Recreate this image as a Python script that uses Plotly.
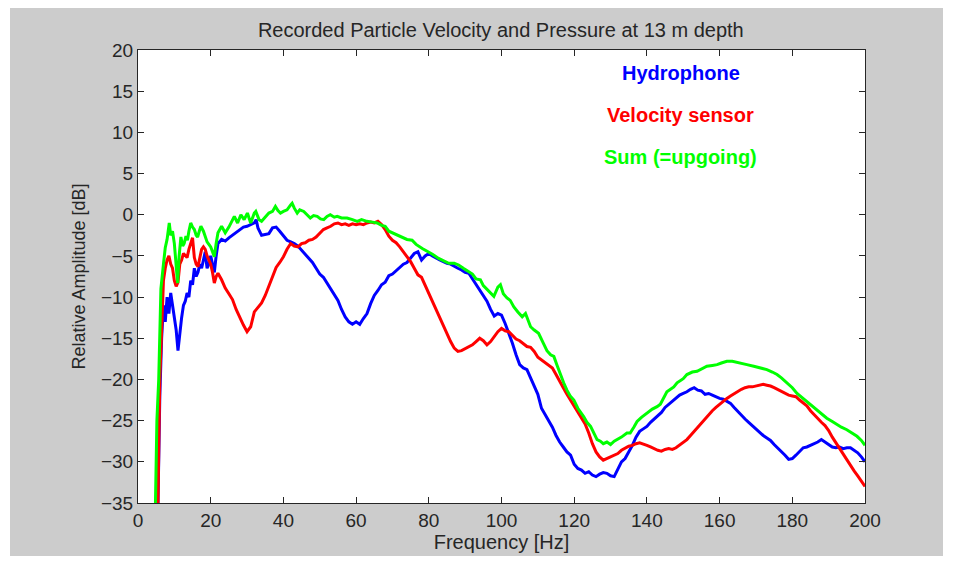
import plotly.graph_objects as go

# ---------------- data ----------------
hydro_f = [5.5, 6, 6.5, 7, 7.5, 8, 8.5, 9, 9.5, 10, 10.5, 11, 11.5, 12, 12.5, 13, 13.5, 14, 14.5, 15,
           15.5, 16, 16.5, 17, 17.5, 18, 18.5, 19, 19.5, 20, 20.5, 21, 21.5, 22, 23, 24, 25, 26, 27, 28,
           29, 30, 31, 32, 32.5, 33, 34, 35, 36, 37, 38, 39, 40, 41, 42, 43, 44, 45, 46, 47,
           48, 49, 50, 51, 52, 53, 54, 55, 56, 57, 58, 59, 60, 61, 62, 63, 64, 65, 66, 67,
           68, 69, 70, 71, 72, 73, 74, 75, 76, 77, 78, 79, 80, 81, 82, 83, 84, 85, 86, 87,
           88, 89, 90, 91, 92, 93, 94, 95, 96, 97, 98, 99, 100, 101, 102, 103, 104, 105, 106, 107,
           108, 109, 110, 111, 112, 113, 114, 115, 116, 117, 118, 119, 120, 121, 122, 123, 124, 125, 126, 127,
           128, 129, 130, 131, 132, 133, 134, 135, 136, 137, 138, 139, 140, 141, 142, 143, 144, 145, 146, 147,
           148, 149, 150, 151, 152, 153, 154, 155, 156, 157, 158, 159, 160, 161, 162, 163, 164, 165, 166, 167,
           168, 169, 170, 171, 172, 173, 174, 175, 176, 177, 178, 179, 180, 181, 182, 183, 184, 185, 186, 187,
           188, 189, 190, 191, 192, 193, 194, 195, 196, 197, 198, 199, 200]
hydro_db = [-35, -22, -15, -11, -13, -10, -12, -9.5, -11, -12.5, -14, -16.5, -14, -12.5, -11, -10.5, -9.5, -10, -8, -8.5,
            -6.5, -7.5, -7, -6, -6.5, -5.5, -4.5, -6.5, -6, -5, -6, -7, -5, -3.5, -3, -3.2, -2.8, -2.5, -2.2, -1.8,
            -1.5, -1.4, -1.2, -1, -0.6, -1.6, -2.5, -2.4, -2.3, -1.6, -1.5, -2, -2.6, -3.1, -3.3, -3.5, -3.8, -4.3, -4.7, -5.2,
            -5.8, -6.5, -7.2, -7.6, -8.3, -9, -9.8, -10.4, -11.5, -12.4, -13, -13.3, -13, -13.3, -12.6, -12, -10.8, -9.8, -9.2, -8.5,
            -8.2, -7.4, -7.2, -6.8, -6.5, -6, -5.8, -5.2, -4.7, -4.5, -5.5, -5, -4.7, -5, -5.3, -5.5, -5.7, -5.9, -6, -6.3,
            -6.5, -6.7, -7, -7.1, -7.8, -8.4, -9.2, -9.8, -10.5, -11.5, -12.3, -12, -12.2, -13.2, -14.3, -15.6, -17, -18.2, -18.6, -18.8,
            -19.8, -20.8, -21.8, -23.5, -24.3, -25, -25.8, -26.8, -27.6, -28.2, -28.8, -29.2, -30.3, -30.8, -31, -31.4, -31.2, -31.6, -31.8, -31.5,
            -31.3, -31.4, -31.7, -31.8, -30.8, -30, -29.6, -28.8, -28, -27, -26.3, -26, -25.7, -25.2, -24.8, -24.4, -24, -23.4, -23, -22.6,
            -22.3, -21.9, -21.7, -21.5, -21.2, -21, -21.3, -21.4, -21.8, -21.7, -21.9, -22.1, -22.3, -22.4, -22.6, -22.9, -23.4, -23.9, -24.3, -24.8,
            -25.2, -25.6, -26, -26.5, -26.8, -27.1, -27.4, -27.9, -28.3, -28.7, -29.2, -29.7, -29.6, -29.2, -28.8, -28.3, -28.2, -28, -27.8, -27.6,
            -27.3, -27.6, -28, -28.2, -28.3, -28.2, -28.4, -28.3, -28.3, -28.6, -28.9, -29.4, -30]

vel_f = [5.5, 6, 6.5, 7, 7.5, 8, 8.5, 9, 9.5, 10, 10.5, 11, 11.5, 12, 12.5, 13, 13.5, 14, 14.5, 15,
         15.5, 16, 16.5, 17, 17.5, 18, 18.5, 19, 19.5, 20, 20.5, 21, 21.5, 22, 23, 24, 25, 26, 27, 28,
         29, 30, 31, 32, 33, 34, 35, 36, 37, 38, 39, 40, 41, 42, 43, 44, 45, 46, 47, 48,
         49, 50, 51, 52, 53, 54, 55, 56, 57, 58, 59, 60, 61, 62, 63, 64, 65, 66, 67, 68,
         69, 70, 71, 72, 73, 74, 75, 76, 77, 78, 79, 80, 81, 82, 83, 84, 85, 86, 87, 88,
         89, 90, 91, 92, 93, 94, 95, 96, 97, 98, 99, 100, 101, 102, 103, 104, 105, 106, 107, 108,
         109, 110, 111, 112, 113, 114, 115, 116, 117, 118, 119, 120, 121, 122, 123, 124, 125, 126, 127, 128,
         129, 130, 131, 132, 133, 134, 135, 136, 137, 138, 139, 140, 141, 142, 143, 144, 145, 146, 147, 148,
         149, 150, 151, 152, 153, 154, 155, 156, 157, 158, 159, 160, 161, 162, 163, 164, 165, 166, 167, 168,
         169, 170, 171, 172, 173, 174, 175, 176, 177, 178, 179, 180, 181, 182, 183, 184, 185, 186, 187, 188,
         189, 190, 191, 192, 193, 194, 195, 196, 197, 198, 199, 200]
vel_db = [-35, -20, -14, -8, -6.5, -5.5, -5, -6, -6.5, -8, -8.7, -8.2, -6, -5.5, -4.7, -5, -5.2, -4.2, -3.5, -2.8,
          -5.2, -6, -6.3, -5, -4.2, -3.9, -4.2, -5, -5.6, -6, -7, -8.3, -7.5, -7.1, -7.9, -8.9, -9.6, -10.3, -11.5, -12.5,
          -13.4, -14.2, -13.6, -11.8, -11.2, -10.7, -9.8, -8.6, -7.5, -6.4, -5.8, -5.1, -4.2, -3.5, -3.8, -3.9, -3.5, -3.4, -3.1, -3,
          -2.7, -2.2, -1.8, -1.6, -1.4, -1.1, -1, -1.2, -1.1, -1.3, -1.1, -1.2, -1.1, -1.2, -1, -0.9, -1, -0.8, -1.2, -1.8,
          -2.6, -3.1, -3.4, -3.9, -4.5, -5.2, -5.7, -6.5, -7.3, -7.6, -8.6, -9.6, -10.6, -11.4, -12.6, -13.5, -14.5, -15.4, -16.2, -16.6,
          -16.5, -16.3, -16, -15.8, -15.4, -15, -15.3, -15.8, -15.4, -14.8, -14.2, -13.8, -14.1, -14.2, -14.6, -15.1, -15.3, -15.7, -16, -16.1,
          -16.6, -17.3, -17.6, -17.9, -18.2, -18.6, -19.4, -20.3, -21, -21.8, -22.5, -23.2, -24, -24.7, -25.4, -26.5, -27.8, -28.8, -29.4, -29.8,
          -29.6, -29.4, -29.3, -29, -28.6, -28.3, -28.1, -28, -27.8, -27.7, -27.9, -28, -28.2, -28.4, -28.6, -28.7, -28.5, -28.4, -28.5, -28.3,
          -28, -27.7, -27.3, -26.8, -26.3, -25.8, -25.2, -24.8, -24.3, -23.8, -23.4, -23, -22.6, -22.3, -22, -21.7, -21.4, -21.2, -21, -20.9,
          -20.9, -20.8, -20.7, -20.6, -20.7, -20.8, -21, -21.2, -21.4, -21.7, -21.9, -22, -22.1, -22.5, -22.9, -23.2, -23.8, -24.3, -24.8, -25.2,
          -25.6, -26.2, -27, -27.7, -28.4, -29.1, -29.8, -30.5, -31.1, -31.7, -32.4, -33]

sum_f = [4.8, 5.2, 5.7, 6.3, 7, 7.5, 8, 8.6, 9, 9.5, 10, 10.4, 10.9, 11.3, 11.8, 12.3, 12.7, 13.2, 13.6, 14,
         14.5, 15, 15.5, 16, 16.4, 17, 17.3, 18, 18.5, 19, 19.5, 20, 20.5, 21, 21.5, 22, 23, 24, 25, 25.5,
         26.5, 27.4, 28.3, 29.2, 30.1, 31, 32, 32.4, 33.3, 34, 35, 36, 37, 37.8, 38.5, 39.2, 40, 41, 42, 42.4,
         43, 43.8, 44.5, 45.6, 46.5, 47.4, 48.3, 49.3, 50.2, 51.1, 52, 52.9, 54, 54.8, 56, 57.5, 59, 60.3, 61.5, 63,
         64.5, 65.8, 67, 68, 69, 70, 71, 72, 73, 74, 75.4, 76.5, 78.2, 79, 80, 81, 82.7, 84, 85.5, 87,
         88.2, 89.5, 91, 92, 93, 94.2, 95, 96.5, 97.9, 99, 99.7, 100.5, 101.5, 102.4, 103.4, 104.5, 105.7, 106.6, 107.5, 108,
         109, 110.2, 111.5, 112.5, 113.5, 114.4, 115.3, 116.2, 117.1, 118, 118.9, 119.9, 121, 122.6, 123.5, 124.5, 125.4, 126.3, 127.2, 128,
         129, 130, 131, 131.8, 133, 134.5, 135.4, 136.4, 137.3, 138.5, 140, 141.5, 142.8, 143.7, 145.5, 147.4, 148.3, 150, 151, 152.5,
         153.8, 155, 156.5, 158, 159.3, 160.5, 162, 163.5, 164.8, 166, 167.5, 169.4, 171, 173, 174.5, 175.8, 177, 178.5, 180, 181.3,
         182.7, 184, 185.5, 186.8, 188, 189.5, 191, 192.3, 193.5, 195, 196.5, 197.8, 199, 200]
sum_db = [-35, -25, -20, -9, -6, -4, -3, -1, -2.5, -2, -3.5, -5.5, -8.3, -5.1, -2.7, -3.8, -3.5, -2.6, -3.1, -2,
          -1, -1.5, -1.8, -2.5, -2.7, -1.8, -1.4, -2, -2.6, -3.3, -3.6, -3.9, -4.5, -5.1, -3.5, -2.2, -1.4, -2.2, -1.5, -1,
          -0.2, -1, 0, -0.6, 0.2, -1, 0.2, 0.4, -0.6, -0.8, -0.3, 0.2, 0.4, 1, 0.5, 0.2, 0.4, 0.6, 1.2, 1.4,
          0.8, 0.2, 0.6, 0.4, 0, -0.4, -0.1, -0.2, -0.5, -0.6, -0.2, 0, -0.3, -0.2, -0.4, -0.4, -0.6, -0.8, -0.6, -0.8,
          -0.9, -1, -1.3, -1.4, -2, -2.2, -2.4, -2.6, -2.8, -3, -3.1, -3.6, -4.1, -4.3, -4.5, -4.8, -5.3, -5.6, -5.9, -5.9,
          -6.1, -6.5, -6.9, -7.2, -7.8, -7.9, -8.6, -9.3, -9.9, -8.8, -8.5, -9.6, -10.1, -10.4, -11.2, -11.8, -12.4, -12, -13, -13.6,
          -14, -14.4, -15.6, -16.5, -17, -17.2, -18.3, -19.4, -20.4, -21.3, -22, -22.5, -23.5, -24.5, -25.2, -25.7, -26.5, -27.3, -27.5, -27.8,
          -27.6, -27.9, -27.5, -27.3, -27, -26.5, -26.5, -25.8, -25.1, -24.6, -24.1, -23.6, -23.3, -23, -21.5, -20.9, -20.4, -19.9, -19.4, -19.1,
          -19, -18.7, -18.4, -18.3, -18.2, -18, -17.8, -17.8, -17.9, -18, -18.2, -18.4, -18.6, -18.8, -19.1, -19.4, -19.8, -20.4, -21, -21.7,
          -22.2, -22.7, -23.2, -23.7, -24.2, -24.7, -25.1, -25.5, -25.8, -26.1, -26.5, -26.9, -27.4, -28]

series_names = ["Hydrophone", "Velocity sensor", "Sum (=upgoing)"]
series_colors = ["#0000ff", "#ff0000", "#00ff00"]
x_ticks = [0, 20, 40, 60, 80, 100, 120, 140, 160, 180, 200]
y_ticks = [20, 15, 10, 5, 0, -5, -10, -15, -20, -25, -30, -35]

# ---------------- figure ----------------
TXT = "#262626"
FONT = "Liberation Sans, Arial, sans-serif"

fig = go.Figure()
for fx, fy, nm, col in zip([hydro_f, vel_f, sum_f], [hydro_db, vel_db, sum_db], series_names, series_colors):
    fig.add_trace(go.Scatter(x=fx, y=fy, mode="lines", name=nm,
                             line=dict(color=col, width=3), showlegend=False))

label_y = [17.2, 12.1, 7.0]
for nm, col, yy in zip(series_names, series_colors, label_y):
    fig.add_annotation(x=149.3, y=yy, xref="x", yref="y", text="<b>" + nm + "</b>",
                       showarrow=False, xanchor="center", yanchor="middle",
                       font=dict(family=FONT, size=20, color=col))

axis_common = dict(showline=True, linecolor=TXT, linewidth=1, mirror="ticks",
                   ticks="inside", ticklen=6, tickcolor=TXT, showgrid=False, zeroline=False,
                   tickfont=dict(family=FONT, size=19, color=TXT))

fig.update_layout(
    width=953, height=561,
    margin=dict(l=138, r=88, t=50, b=58),
    paper_bgcolor="#cccccc",
    plot_bgcolor="#ffffff",
    title=dict(text="Recorded Particle Velocity and Pressure at 13 m depth",
               x=0.5255, xanchor="center", y=1 - 30 / 561, yanchor="middle",
               font=dict(family=FONT, size=20, color=TXT)),
    xaxis=dict(range=[0, 200], tickvals=x_ticks,
               title=dict(text="Frequency [Hz]", font=dict(family=FONT, size=20, color=TXT), standoff=4),
               **axis_common),
    yaxis=dict(range=[-35, 20], tickvals=y_ticks,
               title=dict(text="Relative Amplitude [dB]", font=dict(family=FONT, size=18, color=TXT), standoff=10),
               **axis_common),
    shapes=[
        dict(type="rect", xref="paper", yref="paper", layer="below", line=dict(width=0), fillcolor="#ffffff",
             x0=-0.2, x1=1.2, y0=(503 - 8) / 453, y1=1.2),
        dict(type="rect", xref="paper", yref="paper", layer="below", line=dict(width=0), fillcolor="#ffffff",
             x0=(943 - 138) / 727, x1=1.2, y0=-0.2, y1=1.2),
        dict(type="rect", xref="paper", yref="paper", layer="below", line=dict(width=0), fillcolor="#ffffff",
             x0=-0.2, x1=(10 - 138) / 727, y0=-0.2, y1=1.2),
        dict(type="rect", xref="paper", yref="paper", layer="below", line=dict(width=0), fillcolor="#ffffff",
             x0=-0.2, x1=1.2, y0=-0.2, y1=(503 - 556) / 453),
    ],
)

fig.write_html("out.html")
